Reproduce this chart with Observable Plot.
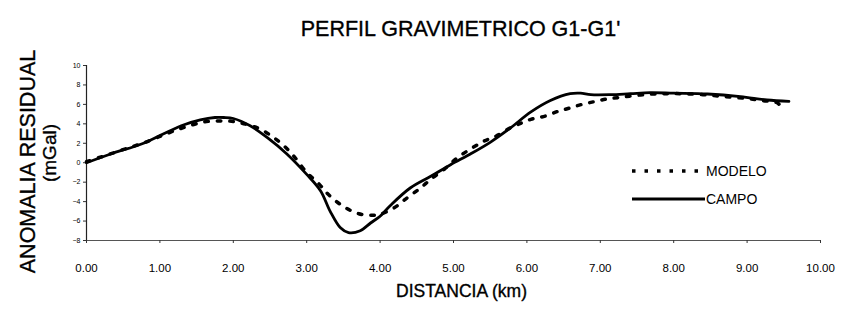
<!DOCTYPE html>
<html>
<head>
<meta charset="utf-8">
<script src="https://cdn.jsdelivr.net/npm/d3@7"></script>
<script src="https://cdn.jsdelivr.net/npm/@observablehq/plot@0.6"></script>
<style>
  html, body { margin: 0; padding: 0; background: #fff; }
  #wrap { position: relative; width: 847px; height: 315px; font-family: "Liberation Sans", Arial, sans-serif; }
  #legend { position: absolute; left: 630px; top: 157px; font-size: 14px; color: #000; }
  #legend .row { display: flex; align-items: center; height: 28px; }
  #legend svg { display: block; }
</style>
</head>
<body>
<div id="wrap"></div>
<script>
// ---- data ----
const campoX = [0, 0.37, 0.74, 1.03, 1.33, 1.55, 1.75, 1.87, 2.0, 2.23, 2.46, 2.73, 3.0, 3.19, 3.32, 3.46, 3.57, 3.73, 3.87, 4.0, 4.14, 4.41, 4.69, 4.96, 5.23, 5.5, 5.78, 6.05, 6.32, 6.59, 6.73, 6.87, 7.14, 7.41, 7.68, 8.0, 8.46, 8.91, 9.27, 9.57];
const campoY = [0, 1.0, 1.9, 2.9, 3.9, 4.4, 4.65, 4.65, 4.55, 3.8, 2.6, 0.9, -1.2, -2.9, -5.0, -6.7, -7.2, -7.0, -6.2, -5.5, -4.4, -2.6, -1.4, -0.2, 0.9, 2.1, 3.6, 5.2, 6.4, 7.1, 7.15, 7.0, 7.0, 7.1, 7.2, 7.15, 7.07, 6.8, 6.45, 6.3];

const modeloX = [0, 0.2, 0.4, 0.6, 0.8, 1.0, 1.2, 1.4, 1.6, 1.8, 2.0, 2.2, 2.37, 2.53, 2.65, 2.8, 3.0, 3.17, 3.3, 3.5, 3.71, 3.89, 4.0, 4.19, 4.37, 4.55, 4.69, 4.87, 5.05, 5.23, 5.41, 5.57, 5.78, 5.93, 6.07, 6.25, 6.43, 6.57, 6.75, 6.93, 7.09, 7.25, 7.46, 7.68, 7.87, 8.1, 8.4, 8.7, 9.0, 9.2, 9.4, 9.46, 9.5];
const modeloY = [0.1, 0.6, 1.1, 1.6, 2.1, 2.7, 3.3, 3.8, 4.2, 4.3, 4.25, 3.9, 3.45, 2.7, 2.0, 0.9, -1.0, -2.2, -3.3, -4.5, -5.25, -5.4, -5.3, -4.65, -3.6, -2.6, -1.7, -0.7, 0.5, 1.4, 2.2, 2.7, 3.6, 4.1, 4.5, 4.8, 5.3, 5.6, 6.0, 6.3, 6.55, 6.7, 6.9, 7.05, 7.1, 7.1, 7.0, 6.8, 6.6, 6.4, 6.2, 5.9, 6.0];

const xTicks = [0, 1, 2, 3, 4, 5, 6, 7, 8, 9, 10];
const yTicks = [-8, -6, -4, -2, 0, 2, 4, 6, 8, 10];

const titleText = "PERFIL GRAVIMETRICO G1-G1'";
const xLabel = "DISTANCIA (km)";
const yLabel1 = "ANOMALIA RESIDUAL";
const yLabel2 = "(mGal)";
const seriesNames = ["MODELO", "CAMPO"];

// ---- build ----
const campo = campoX.map((x, i) => ({x, y: campoY[i]}));
const modelo = modeloX.map((x, i) => ({x, y: modeloY[i]}));

const bigText = {text: d => d, fill: "#000", stroke: "#000", strokeWidth: 0.35, textAnchor: "middle"};

const chart = Plot.plot({
  width: 847,
  height: 315,
  marginLeft: 86,
  marginRight: 27,
  marginTop: 65,
  marginBottom: 75,
  x: {domain: [0, 10]},
  y: {domain: [-8, 10]},
  style: {fontFamily: "'Liberation Sans', Arial, sans-serif", background: "#fff", color: "#000"},
  marks: [
    Plot.ruleY([-8], {stroke: "#555", strokeWidth: 1.2}),
    Plot.ruleX([0], {stroke: "#222", strokeWidth: 1.2}),
    Plot.axisX({ticks: xTicks, tickFormat: d3.format(".2f"), tickSize: 3, tickPadding: 20, fontSize: 11.5, label: null, stroke: "#333"}),
    Plot.axisY({ticks: yTicks, tickSize: 3, tickPadding: 3, fontSize: 7, label: null, stroke: "#333"}),
    Plot.line(modelo, {x: "x", y: "y", stroke: "#000", strokeWidth: 3.5, strokeDasharray: "3.5,9", curve: "catmull-rom"}),
    Plot.line(campo, {x: "x", y: "y", stroke: "#000", strokeWidth: 2.8, curve: "catmull-rom"}),
    Plot.text([titleText], {...bigText, frameAnchor: "top", dy: -45, dx: 7, fontSize: 21.5}),
    Plot.text([xLabel], {...bigText, frameAnchor: "bottom", dy: 56, dx: 8, fontSize: 17.5}),
    Plot.text([yLabel1], {...bigText, frameAnchor: "left", dx: -58, dy: 8.5, rotate: -90, fontSize: 21.5}),
    Plot.text([yLabel2], {...bigText, frameAnchor: "left", dx: -37, dy: 0, rotate: -90, fontSize: 19})
  ]
});

const wrap = document.getElementById("wrap");
wrap.appendChild(chart);

// legend
const legend = document.createElement("div");
legend.id = "legend";
const styles = [
  {dash: "3.5,9", width: 3.5},
  {dash: null, width: 2.8}
];
seriesNames.forEach((name, i) => {
  const row = document.createElement("div");
  row.className = "row";
  const s = d3.create("svg").attr("width", 76).attr("height", 10);
  const ln = s.append("line").attr("x1", 2).attr("x2", 75).attr("y1", 5).attr("y2", 5)
    .attr("stroke", "#000").attr("stroke-width", styles[i].width);
  if (styles[i].dash) ln.attr("stroke-dasharray", styles[i].dash);
  row.appendChild(s.node());
  const t = document.createElement("span");
  t.textContent = name;
  row.appendChild(t);
  legend.appendChild(row);
});
wrap.appendChild(legend);
</script>
</body>
</html>
